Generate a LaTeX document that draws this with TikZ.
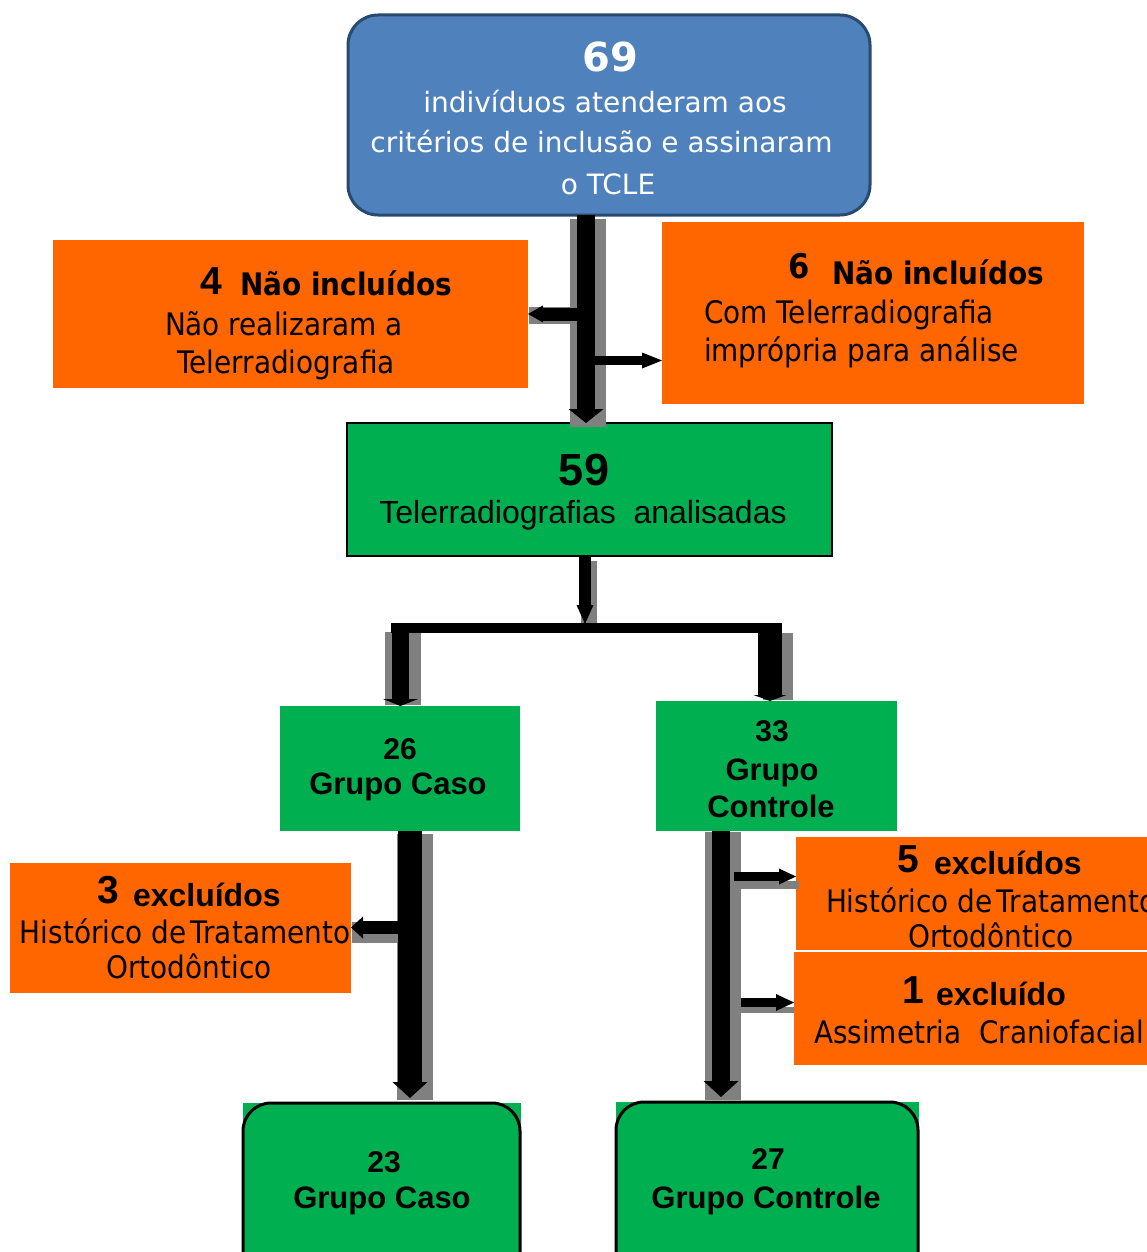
\documentclass[tikz,border=0pt]{standalone}
\usepackage{fontspec}
\usetikzlibrary{arrows.meta}
\newfontfamily\dvs{DejaVu Sans}
\newfontfamily\dvn[FakeStretch=0.9]{DejaVu Sans}
\newfontfamily\ari{Liberation Sans}
\definecolor{boxblue}{HTML}{4F81BD}
\definecolor{boxbluedark}{HTML}{294A70}
\definecolor{boxorange}{HTML}{FF6600}
\definecolor{boxgreen}{HTML}{00B050}
\definecolor{shadowgray}{HTML}{808080}
\newcommand{\fsz}[1]{\fontsize{#1}{#1}\selectfont}
\begin{document}
\begin{tikzpicture}[x=1pt,y=-1pt,
  boxnode/.style={inner sep=0pt, outer sep=0pt},
  orangebox/.style={boxnode, fill=boxorange},
  greenbox/.style={boxnode, fill=boxgreen},
  txt/.style={inner sep=0pt, outer sep=0pt, anchor=base},
  txtl/.style={txt, anchor=base west},
  shadowbar/.style={fill=shadowgray},
  arr/.style={draw=black, line cap=butt},
  tipA/.style={-{Triangle[width=#1, line width=0pt]}}
]
\useasboundingbox (0,0) rectangle (1147,1252);
\clip (0,0) rectangle (1147,1252);
\fill[white] (0,0) rectangle (1147,1252);

% ---------- boxes ----------
\node[boxnode, fill=boxblue, draw=boxbluedark, line width=3pt, rounded corners=30pt,
      minimum width=522pt, minimum height=200pt] (top) at (609,115) {};
\node[orangebox, minimum width=475pt, minimum height=148pt] (nl) at (290.5,314) {};
\node[orangebox, minimum width=422pt, minimum height=182pt] (nr) at (873,313) {};
\node[greenbox, draw=black, line width=1.5pt, minimum width=485pt, minimum height=133pt] (g59) at (589.5,489.5) {};
\node[greenbox, minimum width=240pt, minimum height=125pt] (g26) at (400,768.5) {};
\node[greenbox, minimum width=241pt, minimum height=130pt] (g33) at (776.5,766) {};
\node[orangebox, minimum width=341pt, minimum height=130pt] (ex3) at (180.5,928) {};
\node[orangebox, minimum width=351pt, minimum height=113pt] (ex5) at (971.5,893.5) {};
\node[orangebox, minimum width=353pt, minimum height=113pt] (ex1) at (970.5,1008.5) {};
\fill[boxgreen] (243,1103) rectangle (521,1260);
\fill[boxgreen] (616,1102) rectangle (919,1260);
\node[greenbox, draw=black, line width=3pt, rounded corners=28pt,
      minimum width=277pt, minimum height=187pt] (f23) at (381.5,1196.5) {};
\node[greenbox, draw=black, line width=3pt, rounded corners=28pt,
      minimum width=302pt, minimum height=188pt] (f27) at (767,1196) {};

% ---------- shadows ----------
\fill[shadowbar] (570,219) rectangle (606,427);
\fill[shadowbar] (529,307) rectangle (570,324);
\fill[shadowbar] (581,561) rectangle (597,623);
\fill[shadowbar] (385,632) rectangle (421,705);
\fill[shadowbar] (763,633) rectangle (793,700);
\fill[shadowbar] (397,834) rectangle (433,1100);
\fill[shadowbar] (352,922) rectangle (397,943);
\fill[shadowbar] (705,832) rectangle (741,1100);
\fill[shadowbar] (734,881) rectangle (799,889);
\fill[shadowbar] (741,1007) rectangle (794,1013);

% ---------- connector coordinates ----------
\coordinate (mx) at (586,0);
\coordinate (b1) at (577,314);
\coordinate (b2) at (595,360.5);
\coordinate (m2) at (585,0);
\coordinate (jt) at (585,624);
\coordinate (bl) at (391,628);
\coordinate (br) at (782,628);
\coordinate (dl) at (400.5,623);
\coordinate (dr) at (770,623);
\coordinate (cl) at (410,0);
\coordinate (b3) at (398,927.5);
\coordinate (cr) at (721,0);
\coordinate (b5) at (734,876.5);
\coordinate (b6) at (741,1002.5);

% ---------- black arrows ----------
\draw[arr, line width=18pt, -{Triangle[width=35pt,length=14pt,line width=0pt]}] (top.south -| mx) -- (g59.north -| mx);
\draw[arr, line width=13pt, -{Triangle[width=17pt,length=15pt,line width=0pt]}] (b1) -- (nl.east |- b1);
\draw[arr, line width=9pt, -{Triangle[width=16pt,length=20pt,line width=0pt]}] (b2) -- (nr.west |- b2);
\draw[arr, line width=12pt, -{Triangle[width=17pt,length=19pt,line width=0pt]}] (g59.south -| m2) -- (jt);
\draw[arr, line width=10pt] (bl) -- (br);
\draw[arr, line width=17pt, -{Triangle[width=35pt,length=7pt,line width=0pt]}] (dl) -- (g26.north -| dl);
\draw[arr, line width=24pt, -{Triangle[width=33pt,length=6pt,line width=0pt]}] (dr) -- (g33.north -| dr);
\draw[arr, line width=24pt, shorten >=5pt, -{Triangle[width=35pt,length=16pt,line width=0pt]}] (g26.south -| cl) -- (f23.north -| cl);
\draw[arr, line width=13pt, -{Triangle[width=22pt,length=12pt,line width=0pt]}] (b3) -- (ex3.east |- b3);
\draw[arr, line width=18pt, shorten >=5pt, -{Triangle[width=35pt,length=16pt,line width=0pt]}] (g33.south -| cr) -- (f27.north -| cr);
\draw[arr, line width=9pt, -{Triangle[width=16pt,length=17pt,line width=0pt]}] (b5) -- (ex5.west |- b5);
\draw[arr, line width=9pt, -{Triangle[width=17pt,length=18pt,line width=0pt]}] (b6) -- (ex1.west |- b6);

% ---------- texts ----------
\node[txt, text=white, font=\dvs\bfseries\fsz{40}] (t69) at (610,72) {69};
\node[txt, text=white, font=\dvs\fsz{28}] (t69a) at (605,113) {indivíduos atenderam aos};
\node[txt, text=white, font=\dvs\fsz{28}] (t69b) at (601.5,153) {critérios de inclusão e assinaram};
\node[txt, text=white, font=\dvs\fsz{28}] (t69c) at (608,194) {o TCLE};

\node[txtl, font=\ari\bfseries\fsz{39}] (n4) at (200,294) {4};
\node[txtl, font=\dvn\bfseries\fsz{31}] (n4a) at (240,295) {Não incluídos};
\node[txt, font=\dvn\fsz{31}] (n4b) at (284,335) {Não realizaram a};
\node[txt, font=\dvn\fsz{31}] (n4c) at (286,373) {Telerradiografia};

\node[txtl, font=\dvn\bfseries\fsz{34}] (n6) at (788,278) {6};
\node[txtl, font=\dvn\bfseries\fsz{31}] (n6a) at (832,284) {Não incluídos};
\node[txtl, font=\dvn\fsz{31}] (n6b) at (704,323) {Com Telerradiografia};
\node[txtl, font=\dvn\fsz{31}] (n6c) at (704,361) {imprópria para análise};

\node[txt, font=\ari\bfseries\fsz{45}] (n59) at (584,485) {59};
\node[txt, font=\ari\fsz{32}] (n59a) at (583,523) {Telerradiografias\ \ analisadas};

\node[txt, font=\ari\bfseries\fsz{30}] (n26) at (400,759) {26};
\node[txt, font=\ari\bfseries\fsz{31}] (n26a) at (398,794) {Grupo Caso};
\node[txt, font=\ari\bfseries\fsz{30}] (n33) at (772,741) {33};
\node[txt, font=\ari\bfseries\fsz{31}] (n33a) at (772,780) {Grupo};
\node[txt, font=\ari\bfseries\fsz{31}] (n33b) at (771,817) {Controle};

\node[txtl, font=\ari\bfseries\fsz{39}] (n3) at (97,903) {3};
\node[txtl, font=\ari\bfseries\fsz{32}] (n3a) at (133,906) {excluídos};
\node[txt, font=\dvn\fsz{31}] (n3b) at (185,943) {Histórico de\kern4pt Tratamento};
\node[txt, font=\dvn\fsz{31}] (n3c) at (189,978) {Ortodôntico};

\node[txtl, font=\ari\bfseries\fsz{39}] (n5) at (897,872) {5};
\node[txtl, font=\ari\bfseries\fsz{32}] (n5a) at (934,874) {excluídos};
\node[txtl, font=\dvn\fsz{31}] (n5b) at (826,912) {Histórico de\kern4pt Tratamento};
\node[txt, font=\dvn\fsz{31}] (n5c) at (991,947) {Ortodôntico};

\node[txtl, font=\ari\bfseries\fsz{39}] (n1) at (902,1003) {1};
\node[txtl, font=\ari\bfseries\fsz{32}] (n1a) at (936,1005) {excluído};
\node[txtl, font=\dvn\fsz{31}] (n1b) at (814,1043) {Assimetria\ \ Craniofacial};

\node[txt, font=\ari\bfseries\fsz{30}] (n23) at (384,1172) {23};
\node[txt, font=\ari\bfseries\fsz{31}] (n23a) at (382,1208) {Grupo Caso};
\node[txt, font=\ari\bfseries\fsz{30}] (n27) at (768,1169) {27};
\node[txt, font=\ari\bfseries\fsz{31}] (n27a) at (766,1208) {Grupo Controle};
\end{tikzpicture}
\end{document}
